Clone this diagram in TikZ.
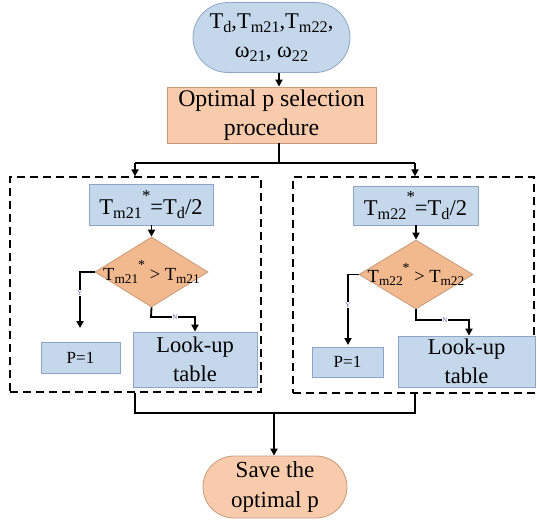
\documentclass[tikz,border=0pt]{standalone}
\usepackage{fontspec}
\usepackage{graphicx}
\setmainfont{Liberation Serif}
\usetikzlibrary{arrows.meta,shapes.misc,shapes.geometric}

\definecolor{boxblue}{HTML}{C5D8EB}
\definecolor{edgeblue}{HTML}{8CA6C6}
\definecolor{boxorange}{HTML}{F8CBAD}
\definecolor{diaorange}{HTML}{F2B98E}
\definecolor{edgeorange}{HTML}{C89A78}
\definecolor{labelblue}{HTML}{5A5FB0}

% lowered small subscript and raised star
\newcommand\dn[1]{\raisebox{-0.38ex}{\scalebox{0.72}{#1}}}
\newcommand\st{\raisebox{0.55em}{\scalebox{0.75}{*}}}

\begin{document}
\begin{tikzpicture}[x=1pt,y=-1pt,
  bluebox/.style={draw=edgeblue,line width=0.8pt,fill=boxblue,inner sep=0pt,align=center},
  orangebox/.style={draw=edgeorange,line width=0.8pt,fill=boxorange,inner sep=0pt,align=center},
  terminal/.style={rounded rectangle,inner sep=0pt,align=center},
  decision/.style={diamond,draw=edgeorange,line width=0.8pt,fill=diaorange,inner sep=0pt},
  bigtext/.style={font=\fontsize{22.5}{29}\selectfont},
  conn/.style={line width=1.8pt,line join=miter},
  arr/.style={conn,-{Triangle[length=7pt,width=7pt]}},
  group/.style={draw,line width=1.3pt,dash pattern=on 8pt off 5pt},
  yn/.style={font=\fontsize{7}{7}\selectfont,text=labelblue,inner sep=0.5pt,fill=white}
]
\useasboundingbox (0,0) rectangle (537,519);

% input terminal and procedure box
\node[terminal,bluebox,bigtext,minimum width=157pt,minimum height=70pt] (inp) at (271.5,37.5)
  {T\dn{d},T\dn{m21},T\dn{m22},\\ ω\dn{21}, ω\dn{22}};
\node[orangebox,font=\fontsize{23.8}{29}\selectfont,minimum width=209pt,minimum height=56pt] (proc) at (271.5,115)
  {Optimal p selection\\procedure};

\coordinate (spine) at (279,0);
\draw[arr] (inp.south -| spine) -- (proc.north -| spine);

% dashed groups
\node[group,minimum width=251pt,minimum height=215pt,inner sep=0pt] (gl) at (135.5,284.5) {};
\node[group,minimum width=241pt,minimum height=216pt,inner sep=0pt] (gr) at (413.5,285) {};

\coordinate (split) at (279,163);
\coordinate (al) at (135,163);
\coordinate (ar) at (415,163);
\draw[conn] (proc.south -| spine) -- (split);
\draw[conn] (al) -- (ar);
\draw[arr] (al) -- (al |- gl.north);
\draw[arr] (ar) -- (ar |- gr.north);

% left branch
\node[bluebox,bigtext,minimum width=124pt,minimum height=41pt] (bl) at (151,204.5)
  {T\dn{m21}\st=T\dn{d}/2};
\node[decision,minimum width=113pt,minimum height=70pt] (dl) at (151.5,272) {};
\node[font=\fontsize{18.5}{18.5}\selectfont,inner sep=0pt] (dlt) at (dl.center) {T\dn{m21}\st{} > T\dn{m21}};
\node[bluebox,font=\fontsize{17}{17}\selectfont,minimum width=79pt,minimum height=31pt] (pl) at (80.5,357.5) {P=1};
\node[bluebox,bigtext,minimum width=124pt,minimum height=55pt] (ll) at (195,359.5) {Look-up\\table};

\draw[arr] (bl.south -| dl.north) -- (dl.north);
\coordinate (ylc) at (80,272);
\coordinate (ylt) at (80,328);
\draw[arr] (dl.west) -- (ylc) -- (ylt);
\node[yn] (ylab) at (80,293) {Y};
\coordinate (nl1) at (151,317);
\coordinate (nl2) at (195,317);
\draw[arr] (dl.south) -- (nl1) -- (nl2) -- (ll.north -| nl2);
\node[yn] (nlab) at (175,317) {N};

% right branch
\node[bluebox,bigtext,minimum width=125pt,minimum height=39pt] (br) at (415.5,205.5)
  {T\dn{m22}\st=T\dn{d}/2};
\node[decision,minimum width=114pt,minimum height=69pt] (dr) at (416,274.5) {};
\node[font=\fontsize{18.5}{18.5}\selectfont,inner sep=0pt] (drt) at (dr.center) {T\dn{m22}\st{} > T\dn{m22}};
\node[bluebox,font=\fontsize{17}{17}\selectfont,minimum width=71pt,minimum height=30pt] (pr) at (347.5,362) {P=1};
\node[bluebox,bigtext,minimum width=137pt,minimum height=51pt] (lr) at (466.5,361.5) {Look-up\\table};

\draw[arr] (br.south -| dr.north) -- (dr.north);
\coordinate (yrc) at (348,274.5);
\coordinate (yrt) at (348,345);
\draw[arr] (dr.west) -- (yrc) -- (yrt);
\node[yn] (yrlab) at (348,305) {Y};
\coordinate (nr1) at (416,320);
\coordinate (nr2) at (469,320);
\draw[arr] (dr.south) -- (nr1) -- (nr2) -- (lr.north -| nr2);
\node[yn] (nrlab) at (445,320) {N};

% merge and output terminal
\node[terminal,orangebox,font=\fontsize{23}{30}\selectfont,minimum width=144pt,minimum height=62pt] (save) at (275,487)
  {Save the\\optimal p};
\coordinate (ml) at (135,413);
\coordinate (mr) at (415,413);
\coordinate (mc) at (274,413);
\draw[conn] (gl.south -| ml) -- (ml) -- (mr) -- (gr.south -| mr);
\draw[arr] (mc) -- (save.north -| mc);
\end{tikzpicture}
\end{document}
